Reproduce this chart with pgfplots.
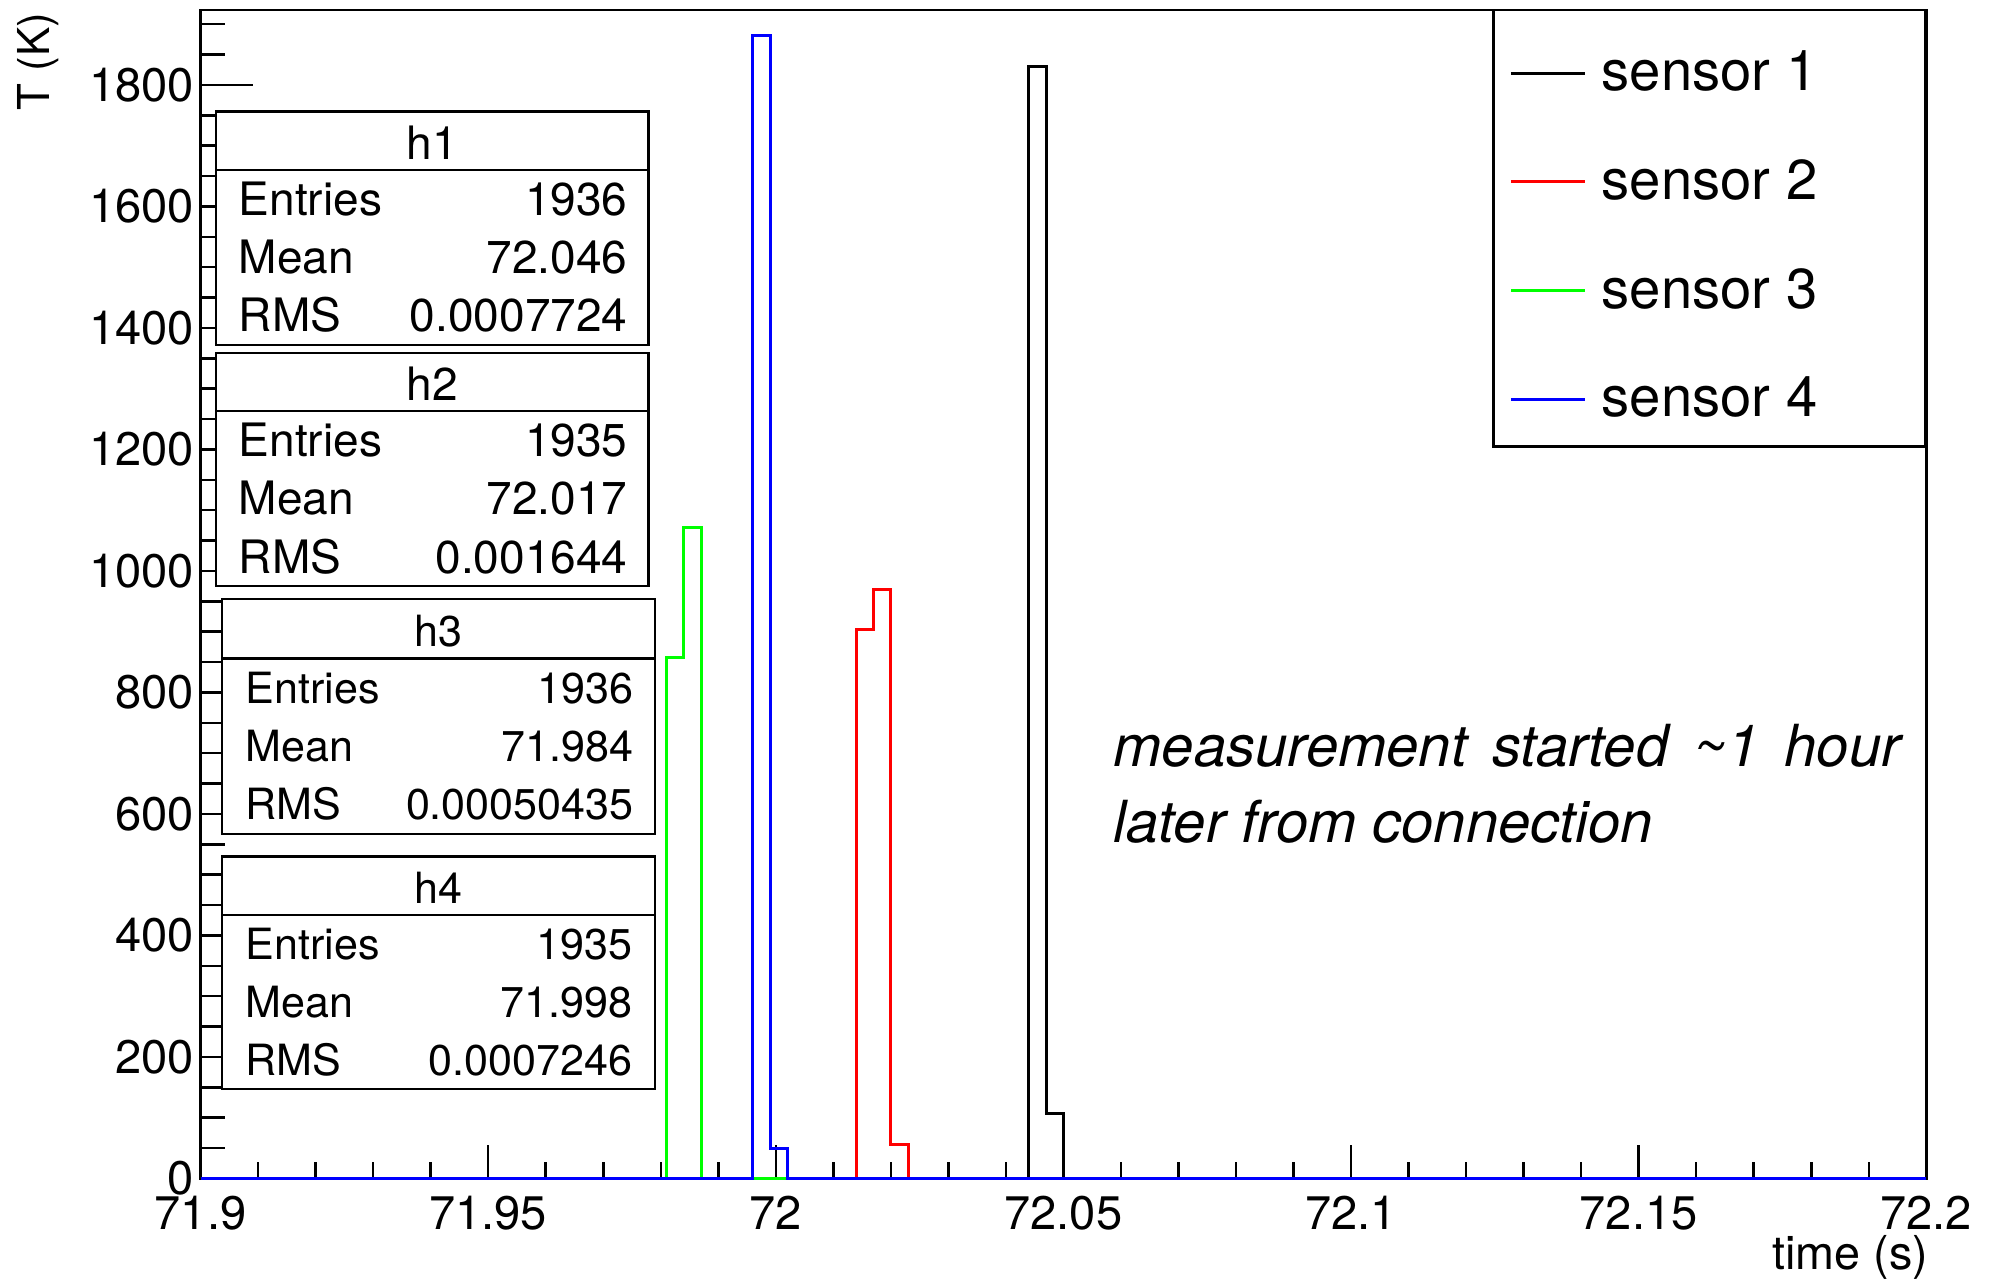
\documentclass[border=0pt]{standalone}
\usepackage{fontspec}
\setmainfont{TeX Gyre Heros}
\usepackage{pgfplots}
\pgfplotsset{compat=1.18}
\newcommand{\fs}[1]{\fontsize{#1}{#1}\selectfont}
\begin{document}
\begin{tikzpicture}
\path (0,0) rectangle (19.91cm,12.80cm);
% axis B: y ticks
\begin{axis}[at={(2.006cm,1.016cm)}, anchor=south west, scale only axis,
  width=17.257cm, height=11.682cm,
  xmin=71.9, xmax=72.2, ymin=0, ymax=1923,
  xtick=\empty,
  ytick={0,200,400,600,800,1000,1200,1400,1600,1800},
  yticklabels={0,200,400,600,800,1000,1200,1400,1600,1800},
  minor ytick={0,50,...,1900},
  ytick pos=left, tick align=inside,
  major tick length=0.52cm, minor tick length=0.245cm,
  tick style={line width=0.025cm, black},
  yticklabel style={font=\fs{13.4}, xshift=0.06cm},
  axis line style={line width=0.025cm}]
\end{axis}
% axis A: x ticks, data, legend
\begin{axis}[at={(2.006cm,1.016cm)}, anchor=south west, scale only axis,
  width=17.257cm, height=11.682cm,
  xmin=71.9, xmax=72.2, ymin=0, ymax=1923, clip=false,
  ytick=\empty,
  xtick={71.9,71.95,72,72.05,72.1,72.15,72.2},
  xticklabels={71.9,71.95,72,72.05,72.1,72.15,72.2},
  minor xtick={71.91,71.92,71.93,71.94,71.96,71.97,71.98,71.99,72.01,72.02,72.03,72.04,72.06,72.07,72.08,72.09,72.11,72.12,72.13,72.14,72.16,72.17,72.18,72.19},
  xtick pos=bottom, tick align=inside,
  major tick length=0.33cm, minor tick length=0.16cm,
  tick style={line width=0.025cm, black},
  xticklabel style={font=\fs{13.4}, yshift=-0.05cm},
  axis line style={line width=0.025cm},
  every axis plot/.append style={line width=0.03cm, mark=none, const plot},
  legend image code/.code={\draw[#1, line width=0.03cm] (0cm,0cm) -- (0.74cm,0cm);},
  legend cell align=left,
  legend style={draw=none, fill=none, at={(0.758,0.9933)}, anchor=north west,
    inner sep=0pt, row sep=0pt, column sep=0.155cm,
    nodes={inner sep=0pt, minimum height=1.088cm, font=\fs{16}}}]
\addplot[black] coordinates {(71.9,0) (72.044,1831) (72.047,106) (72.050,0) (72.2,0)};
\addlegendentry{sensor 1}
\addplot[red] coordinates {(71.9,0) (72.014,904) (72.017,970) (72.020,56) (72.023,0) (72.2,0)};
\addlegendentry{sensor 2}
\addplot[green] coordinates {(71.9,0) (71.981,858) (71.984,1072) (71.987,0) (72.2,0)};
\addlegendentry{sensor 3}
\addplot[blue] coordinates {(71.9,0) (71.996,1881) (71.999,50) (72.002,0) (72.2,0)};
\addlegendentry{sensor 4}
\end{axis}
\begin{scope}[shift={(0,12.8cm)}, x=0.01cm, y=-0.01cm, every node/.style={inner sep=0pt}]
% legend frame
\draw[line width=0.025cm] (1494.5,10.2) rectangle (1926.3,447);
% axis titles
\node[rotate=90, anchor=base east, font=\fs{12.5}] at (50,12) {T (K)};
\node[anchor=base east, font=\fs{13.3}] at (1930,1270) {time (s)};
% annotation
\node[anchor=base west, font=\fs{16.5}\itshape] at (1113.6,767) {measurement\hspace{0.09cm} started\hspace{0.09cm} \textasciitilde1\hspace{0.09cm} hour};
\node[anchor=base west, font=\fs{16.5}\itshape] at (1113.6,843) {later from connection};
% stats h1
\begin{scope}[font=\fs{13.1}]
\draw[line width=0.025cm, fill=white] (215.9,111.7) rectangle (648.9,345.4);
\draw[line width=0.025cm] (215.9,170.2) -- (648.9,170.2);
\node[anchor=base] at (432.4,159.5) {h1};
\node[anchor=base west] at (238.2,215.4) {Entries};
\node[anchor=base east] at (628.5,215.4) {1936};
\node[anchor=base west] at (238.2,273.8) {Mean};
\node[anchor=base east] at (628.5,273.8) {72.046};
\node[anchor=base west] at (238.2,332.2) {RMS};
\node[anchor=base east] at (628.5,332.2) {0.0007724};
% stats h2
\draw[line width=0.025cm, fill=white] (215.9,353) rectangle (648.9,586.6);
\draw[line width=0.025cm] (215.9,411.4) -- (648.9,411.4);
\node[anchor=base] at (432.4,400.7) {h2};
\node[anchor=base west] at (238.2,456.6) {Entries};
\node[anchor=base east] at (628.5,456.6) {1935};
\node[anchor=base west] at (238.2,515) {Mean};
\node[anchor=base east] at (628.5,515) {72.017};
\node[anchor=base west] at (238.2,573.4) {RMS};
\node[anchor=base east] at (628.5,573.4) {0.001644};
\end{scope}
\begin{scope}[font=\fs{12.25}]
% stats h3
\draw[line width=0.025cm, fill=white] (222.2,599.3) rectangle (655.2,834.3);
\draw[line width=0.025cm] (222.2,659) -- (655.2,659);
\node[anchor=base] at (438.7,646.5) {h3};
\node[anchor=base west] at (245,703.5) {Entries};
\node[anchor=base east] at (634.5,703.5) {1936};
\node[anchor=base west] at (245,761.9) {Mean};
\node[anchor=base east] at (634.5,761.9) {71.984};
\node[anchor=base west] at (245,820.3) {RMS};
\node[anchor=base east] at (634.5,820.3) {0.00050435};
% stats h4
\draw[line width=0.025cm, fill=white] (222.2,857.1) rectangle (655.2,1089.5);
\draw[line width=0.025cm] (222.2,915.5) -- (655.2,915.5);
\node[anchor=base] at (438.7,903.8) {h4};
\node[anchor=base west] at (245,959.8) {Entries};
\node[anchor=base east] at (633.5,959.8) {1935};
\node[anchor=base west] at (245,1017.8) {Mean};
\node[anchor=base east] at (633.5,1017.8) {71.998};
\node[anchor=base west] at (245,1075.8) {RMS};
\node[anchor=base east] at (633.5,1075.8) {0.0007246};
\end{scope}
\end{scope}
\end{tikzpicture}
\end{document}
